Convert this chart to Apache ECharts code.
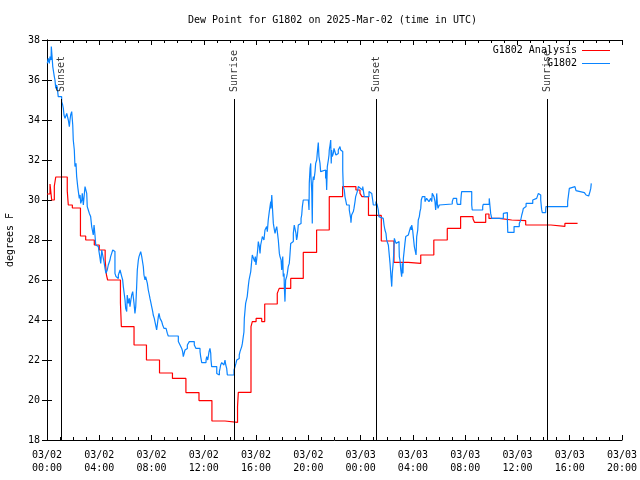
<!DOCTYPE html>
<html><head><meta charset="utf-8">
<script src="https://cdn.jsdelivr.net/npm/echarts@6/dist/echarts.min.js"></script>
<style>html,body{margin:0;padding:0;background:#fff}#c{width:640px;height:480px}</style>
</head><body><div id="c"></div>
<script>
const titleText = 'Dew Point for G1802 on 2025-Mar-02 (time in UTC)';
const yAxisName = 'degrees F';
const xTickLabels = ['03/02\n00:00','03/02\n04:00','03/02\n08:00','03/02\n12:00','03/02\n16:00','03/02\n20:00',
  '03/03\n00:00','03/03\n04:00','03/03\n08:00','03/03\n12:00','03/03\n16:00','03/03\n20:00'];
const seriesNames = ['G1802 Analysis', 'G1802'];
const sunEventNames = ['Sunset', 'Sunrise', 'Sunset', 'Sunrise'];
const sunEventHours = [1.1, 14.33, 25.2, 38.3];

// hours since 03/02 00:00 UTC
const analysisHours = [0.00,0.23,0.36,0.56,0.67,1.55,1.63,1.94,2.56,2.96,3.62,4.00,4.45,4.55,4.64,5.62,5.69,6.66,7.61,8.61,9.60,10.63,11.63,12.62,13.62,14.58,14.64,15.61,15.71,16.00,16.43,16.66,17.62,17.77,18.65,19.61,20.63,21.60,22.62,23.64,23.95,24.10,24.60,25.58,26.55,27.63,28.60,29.60,30.63,31.65,32.60,32.72,33.57,33.82,34.60,35.56,35.68,36.63,38.56,39.63,40.60];
const analysisValues = [30.3,30.8,30.0,30.7,31.15,30.45,29.75,29.6,28.2,28.0,27.75,27.5,27.0,26.25,26.0,24.85,23.67,22.75,22.0,21.35,21.08,20.37,19.97,18.95,18.88,19.67,20.38,23.67,23.92,24.08,23.92,24.8,25.33,25.58,26.08,27.38,28.5,30.17,30.67,30.5,30.33,30.17,29.23,27.95,26.88,26.83,27.25,28.0,28.58,29.17,29.05,28.88,29.3,29.08,29.0,29.08,28.97,28.75,28.68,28.83,28.83];

const obsHours = [0.02,0.10,0.18,0.23,0.31,0.33,0.38,0.44,0.48,0.56,0.61,0.67,0.74,0.79,0.86,1.12,1.20,1.25,1.30,1.38,1.51,1.63,1.71,1.76,1.81,1.89,1.97,2.01,2.09,2.14,2.22,2.27,2.35,2.40,2.47,2.53,2.58,2.66,2.70,2.78,2.85,2.91,2.98,3.04,3.08,3.16,3.24,3.34,3.42,3.47,3.54,3.60,3.67,3.73,3.80,3.93,3.98,4.06,4.11,4.19,4.26,4.31,4.36,4.44,4.51,4.57,4.61,4.69,4.77,4.82,4.87,4.95,5.03,5.07,5.13,5.20,5.28,5.33,5.38,5.46,5.53,5.59,5.64,5.72,5.79,5.84,5.97,6.02,6.10,6.14,6.22,6.30,6.35,6.40,6.48,6.56,6.60,6.66,6.73,6.79,6.86,6.91,6.99,7.04,7.12,7.17,7.25,7.29,7.37,7.42,7.50,7.55,7.63,7.68,7.75,7.83,7.88,7.96,8.01,8.09,8.13,8.21,8.26,8.34,8.39,8.44,8.52,8.57,8.65,8.70,8.78,8.85,8.95,9.11,9.21,9.28,10.05,10.18,10.31,10.38,10.43,10.48,10.56,10.64,10.74,10.89,11.27,11.40,11.71,11.76,11.84,12.17,12.22,12.30,12.34,12.40,12.47,12.53,12.55,12.60,12.99,13.11,13.19,13.24,13.29,13.37,13.49,13.54,13.62,13.68,13.75,13.80,14.31,14.39,14.46,14.52,14.64,14.71,14.77,14.82,14.90,14.95,15.02,15.07,15.10,15.15,15.20,15.28,15.32,15.40,15.46,15.59,15.66,15.71,15.79,15.84,15.89,15.94,15.99,16.04,16.12,16.17,16.25,16.30,16.35,16.43,16.48,16.55,16.60,16.68,16.73,16.81,16.86,16.93,16.99,17.01,17.06,17.12,17.14,17.20,17.24,17.32,17.40,17.45,17.50,17.58,17.62,17.70,17.78,17.83,17.91,17.96,18.04,18.08,18.14,18.16,18.21,18.26,18.34,18.39,18.46,18.54,18.59,18.65,18.72,18.85,18.92,19.05,19.10,19.15,19.23,19.36,19.44,19.49,19.54,19.61,20.00,20.05,20.07,20.13,20.18,20.20,20.26,20.30,20.33,20.38,20.43,20.51,20.56,20.64,20.68,20.76,20.81,20.89,20.94,21.02,21.32,21.35,21.40,21.45,21.53,21.58,21.60,21.66,21.71,21.75,21.78,21.83,21.91,21.96,22.04,22.11,22.17,22.21,22.29,22.37,22.42,22.47,22.55,22.63,22.67,22.75,22.80,22.88,22.93,23.13,23.24,23.26,23.31,23.44,23.49,23.57,23.62,23.70,23.78,23.82,23.95,24.00,24.08,24.16,24.28,24.64,24.77,24.85,24.92,24.97,25.02,25.10,25.17,25.23,25.27,25.35,25.40,25.48,25.73,25.79,25.86,25.94,25.99,26.04,26.12,26.19,26.25,26.32,26.38,26.42,26.50,26.58,26.63,26.71,26.76,26.94,26.96,27.01,27.07,27.14,27.19,27.24,27.27,27.32,27.39,27.45,27.57,27.65,27.72,27.78,27.83,27.88,27.91,27.98,28.03,28.11,28.16,28.24,28.29,28.37,28.41,28.49,28.54,28.60,28.64,28.72,28.79,28.85,28.92,29.00,29.05,29.10,29.18,29.23,29.36,29.44,29.48,29.56,29.61,29.69,29.74,29.79,29.82,29.87,29.92,29.97,30.02,30.07,31.01,31.09,31.35,31.40,31.66,31.70,31.73,32.50,32.54,33.34,33.38,33.84,33.90,33.95,34.03,34.92,35.05,35.23,35.26,35.74,36.14,36.25,36.33,36.40,36.45,36.58,36.66,37.17,37.21,37.47,37.55,37.60,37.65,37.72,37.78,37.85,37.90,38.16,38.18,39.84,39.89,39.97,40.02,40.40,40.48,40.53,41.12,41.25,41.37,41.45,41.50,41.55,41.61,41.65];
const obsValues = [36.83,37.08,36.83,37.17,37.0,37.67,37.25,36.67,36.75,36.17,36.0,35.58,35.75,35.58,35.17,34.92,34.75,34.58,34.25,34.08,34.33,34.0,33.67,34.0,34.25,34.42,33.75,33.0,32.5,31.67,31.83,31.17,30.67,30.42,30.08,30.25,29.83,30.0,30.33,29.75,30.25,30.67,30.75,30.33,29.67,29.5,29.33,29.17,28.67,28.5,28.25,28.75,28.25,27.75,27.67,27.58,27.42,27.08,26.83,27.5,27.25,27.08,26.92,26.58,26.33,26.25,26.5,26.75,26.83,27.0,27.17,27.33,27.5,27.58,27.42,26.33,26.17,26.25,26.08,26.25,26.33,26.5,26.58,26.17,26.0,25.67,25.0,24.58,24.42,25.25,24.83,25.08,24.67,24.92,25.25,25.42,25.17,24.83,24.33,24.67,25.67,26.5,27.0,27.17,27.25,27.42,27.17,27.0,26.67,26.25,26.0,26.17,26.08,25.83,25.5,25.25,25.08,24.83,24.67,24.42,24.25,24.08,23.92,23.67,23.5,23.42,24.17,24.33,24.08,24.0,23.92,23.75,23.58,23.5,23.33,23.2,22.92,22.75,22.58,22.42,22.17,22.25,22.5,22.58,22.75,22.92,22.75,22.58,22.42,22.17,21.87,22.0,22.17,22.0,22.17,22.42,22.58,22.33,22.0,21.67,21.33,21.25,21.42,21.58,21.75,21.87,21.92,21.75,22.0,21.75,21.58,21.25,21.5,21.67,21.83,22.0,22.08,22.25,22.42,22.5,22.67,22.83,23.17,23.4,24.08,24.17,24.83,24.92,25.17,25.67,26.0,26.42,26.92,27.25,27.33,27.17,26.92,27.17,26.75,27.0,27.5,27.92,27.67,27.33,27.75,28.0,28.17,28.25,28.0,28.5,28.58,28.67,28.42,29.0,29.08,29.42,29.5,29.92,29.58,30.25,29.75,28.83,28.5,28.33,28.5,28.67,28.75,28.0,27.33,27.17,27.0,26.5,27.17,26.17,26.33,25.67,24.92,26.0,26.17,26.33,26.67,26.83,27.25,27.83,27.92,28.33,28.75,28.33,28.0,28.17,28.75,28.83,29.08,29.25,29.67,30.0,30.08,29.5,30.83,31.58,31.83,31.17,30.42,28.83,30.83,31.17,31.0,31.42,31.83,32.0,32.33,32.87,32.17,31.83,31.42,31.5,31.08,31.5,30.5,31.67,32.0,32.25,32.5,32.75,33.0,31.83,32.5,32.17,32.33,32.58,32.5,32.25,32.17,32.33,32.5,32.58,32.67,32.5,32.42,31.5,30.67,30.5,30.17,29.92,29.75,29.5,29.08,28.87,29.25,29.42,29.58,29.92,30.17,30.33,30.5,30.67,30.75,30.58,30.5,30.67,30.17,30.42,30.33,30.25,30.0,29.75,29.67,29.75,29.92,30.0,29.75,29.5,29.17,29.08,29.0,28.75,28.5,28.33,28.0,27.92,27.75,27.67,26.83,26.17,25.67,26.33,26.92,28.08,28.17,27.83,27.92,27.67,27.17,27.0,26.5,26.17,26.83,26.33,27.08,27.17,27.83,28.17,28.25,28.33,28.42,28.5,28.67,28.5,28.75,28.5,28.17,27.67,27.5,27.25,28.17,28.5,29.0,29.17,29.42,29.58,30.0,30.17,30.08,30.17,29.92,29.83,30.08,30.17,30.0,29.92,30.08,29.92,30.33,30.42,30.17,29.92,29.5,29.83,30.33,29.83,29.58,29.5,29.75,29.8,29.92,30.08,29.92,29.78,29.92,30.25,30.42,29.75,29.5,29.67,29.78,30.08,30.0,29.33,29.08,29.33,29.37,29.0,28.38,28.67,28.83,29.0,29.25,29.42,29.58,29.67,29.83,30.0,30.08,30.13,30.17,30.33,30.42,30.25,30.0,29.53,29.37,29.5,29.67,29.92,30.17,30.58,30.67,30.58,30.47,30.37,30.3,30.25,30.2,30.13,30.25,30.42,30.58,30.83];

const sunLineBottom = 18, sunLineTop = 35.05, sunLabelLevel = 35.4;
const FONT = 'DejaVu Sans Mono';

const zip = (a, b) => a.map((v, i) => [v, b[i]]);
const chart = echarts.init(document.getElementById('c'), null, {renderer: 'canvas'});

const tickStyle = {show: true, inside: true, length: 5, lineStyle: {color: '#000', width: 1}};
const minorStyle = {show: true, splitNumber: 4, length: 3, lineStyle: {color: '#000', width: 1}};
const lineStyleAx = {show: true, lineStyle: {color: '#000', width: 1}};

chart.setOption({
  animation: false,
  backgroundColor: '#fff',
  title: {text: titleText, left: 183, top: 10, textStyle: {fontFamily: FONT, fontSize: 10, fontWeight: 'normal', color: '#000'}},
  legend: {
    data: seriesNames, orient: 'vertical', right: 25, top: 39, align: 'right',
    icon: 'rect', itemWidth: 28, itemHeight: 1, itemGap: 0,
    textStyle: {fontFamily: FONT, fontSize: 10, color: '#000', lineHeight: 13}
  },
  grid: {left: 47, right: 18, top: 40, bottom: 40, containLabel: false, outerBoundsMode: 'none'},
  xAxis: [
    {type: 'value', min: 0, max: 44, interval: 4, position: 'bottom',
     axisLine: lineStyleAx, axisTick: tickStyle, minorTick: minorStyle, splitLine: {show: false}, minorSplitLine: {show: false},
     axisLabel: {fontFamily: FONT, fontSize: 10, color: '#000', lineHeight: 13, margin: 9, showMaxLabel: true, showMinLabel: true,
       formatter: v => xTickLabels[Math.round(v / 4)]}},
    {type: 'value', min: 0, max: 44, interval: 4, position: 'top',
     axisLine: lineStyleAx, axisTick: tickStyle, minorTick: minorStyle, splitLine: {show: false}, axisLabel: {show: false}}
  ],
  yAxis: [
    {type: 'value', min: 18, max: 38, interval: 2, position: 'left',
     name: yAxisName, nameLocation: 'middle', nameGap: 32, nameRotate: 90,
     nameTextStyle: {fontFamily: FONT, fontSize: 10, color: '#000'},
     axisLine: lineStyleAx, axisTick: tickStyle, splitLine: {show: false},
     axisLabel: {fontFamily: FONT, fontSize: 10, color: '#000', margin: 7}},
    {type: 'value', min: 18, max: 38, interval: 2, position: 'right',
     axisLine: lineStyleAx, axisTick: tickStyle, splitLine: {show: false}, axisLabel: {show: false}}
  ],
  series: [
    {name: seriesNames[0], type: 'line', step: 'end', showSymbol: false, symbol: 'none',
     data: zip(analysisHours, analysisValues), lineStyle: {color: '#ff0000', width: 1.2}, itemStyle: {color: '#ff0000'}, z: 3},
    {name: seriesNames[1], type: 'line', step: 'end', showSymbol: false, symbol: 'none',
     data: zip(obsHours, obsValues), lineStyle: {color: '#0a84ff', width: 1.2}, itemStyle: {color: '#0a84ff'}, z: 4},
    {name: 'sun', type: 'scatter', symbolSize: 0, silent: true, z: 5,
     data: sunEventHours.map((t, i) => ({value: [t, sunLabelLevel], name: sunEventNames[i]})),
     label: {show: true, formatter: p => p.name, rotate: 90, position: 'inside', align: 'left', verticalAlign: 'middle',
       fontFamily: FONT, fontSize: 10, color: '#000'},
     markLine: {silent: true, symbol: 'none', label: {show: false}, animation: false,
       lineStyle: {color: '#000', width: 1, type: 'solid'},
       data: sunEventHours.map(t => [{coord: [t, sunLineBottom]}, {coord: [t, sunLineTop]}])}}
  ]
});
</script></body></html>
